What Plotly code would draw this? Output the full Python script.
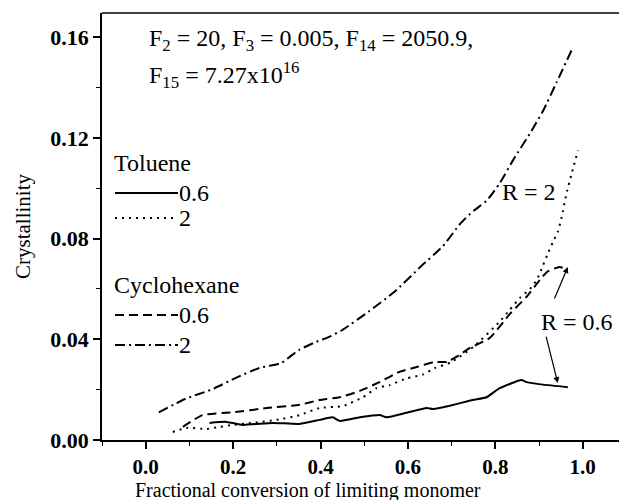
import plotly.graph_objects as go

# Toluene R = 0.6 (solid)
tol06_x = [0.146, 0.185, 0.222, 0.29, 0.352, 0.398, 0.428, 0.444, 0.49, 0.535, 0.551, 0.597, 0.643, 0.657, 0.703, 0.748, 0.78, 0.81, 0.86, 0.872, 0.909, 0.966]
tol06_y = [0.0068, 0.0072, 0.006, 0.0068, 0.0064, 0.008, 0.009, 0.0076, 0.009, 0.0099, 0.009, 0.0108, 0.0127, 0.0123, 0.0139, 0.0159, 0.017, 0.0206, 0.0238, 0.023, 0.022, 0.021]

# Toluene R = 2 (dotted)
tol2_x = [0.062, 0.094, 0.139, 0.169, 0.2, 0.245, 0.3, 0.352, 0.398, 0.451, 0.497, 0.528, 0.558, 0.597, 0.634, 0.661, 0.70, 0.75, 0.81, 0.833, 0.856, 0.879, 0.895, 0.906, 0.92, 0.932, 0.943, 0.952, 0.963, 0.975, 0.989]
tol2_y = [0.0032, 0.0048, 0.0044, 0.0052, 0.006, 0.0068, 0.008, 0.0099, 0.0127, 0.0135, 0.017, 0.0206, 0.0218, 0.0245, 0.026, 0.0285, 0.031, 0.037, 0.047, 0.0517, 0.0564, 0.060, 0.0636, 0.068, 0.074, 0.0787, 0.0826, 0.0887, 0.098, 0.106, 0.115]

# Cyclohexane R = 0.6 (dashed)
cyc06_x = [0.085, 0.13, 0.2, 0.277, 0.352, 0.398, 0.444, 0.49, 0.535, 0.58, 0.62, 0.661, 0.689, 0.711, 0.741, 0.787, 0.833, 0.872, 0.902, 0.92, 0.947, 0.963]
cyc06_y = [0.0052, 0.0099, 0.011, 0.0127, 0.014, 0.0159, 0.017, 0.0195, 0.023, 0.027, 0.029, 0.031, 0.031, 0.033, 0.0365, 0.0405, 0.050, 0.057, 0.0636, 0.067, 0.0687, 0.068]

# Cyclohexane R = 2 (dash-dot)
cyc2_x = [0.03, 0.09, 0.15, 0.21, 0.26, 0.31, 0.35, 0.39, 0.42, 0.45, 0.51, 0.57, 0.63, 0.68, 0.72, 0.75, 0.78, 0.81, 0.84, 0.88, 0.91, 0.94, 0.975]
cyc2_y = [0.011, 0.0163, 0.020, 0.025, 0.0286, 0.0306, 0.0357, 0.039, 0.041, 0.0437, 0.051, 0.059, 0.069, 0.077, 0.086, 0.091, 0.095, 0.102, 0.111, 0.122, 0.131, 0.142, 0.155]

x_ticks = [0.0, 0.2, 0.4, 0.6, 0.8, 1.0]
y_ticks = [0.00, 0.04, 0.08, 0.12, 0.16]

FONT = "Liberation Serif"
TXT = 24
W, H = 619, 500
ML, MR, MT, MB = 102, 0, 13, 60
pw, ph = W - ML - MR, H - MT - MB

def px(xp):
    return (xp - ML) / pw

def py(yp):
    return (H - MB - yp) / ph

fig = go.Figure()
styles = [
    (tol06_x, tol06_y, "solid", "Toluene 0.6"),
    (tol2_x, tol2_y, "2px,5px", "Toluene 2"),
    (cyc06_x, cyc06_y, "9px,5px", "Cyclohexane 0.6"),
    (cyc2_x, cyc2_y, "10px,4px,2px,4px", "Cyclohexane 2"),
]
for xs, ys, dash, name in styles:
    fig.add_trace(go.Scatter(x=xs, y=ys, mode="lines", name=name,
                             line=dict(color="black", width=2, dash=dash, shape="spline", smoothing=0.5),
                             showlegend=False))

shapes = [dict(type="line", xref="paper", yref="paper", x0=0, x1=1, y0=1, y1=1,
               line=dict(color="black", width=1.5))]
annotations = []

# legend drawn manually
leg = [
    ("Toluene", None, 163),
    ("0.6", "solid", 193),
    ("2", "2px,5px", 218),
    ("Cyclohexane", None, 285),
    ("0.6", "9px,5px", 315),
    ("2", "10px,4px,2px,4px", 345),
]
for text, dash, yc in leg:
    if dash is None:
        annotations.append(dict(xref="paper", yref="paper", x=px(112), y=py(yc), text=text,
                                showarrow=False, xanchor="left", yanchor="middle",
                                font=dict(family=FONT, size=TXT, color="black")))
    else:
        shapes.append(dict(type="line", xref="paper", yref="paper", x0=px(115), x1=px(178),
                           y0=py(yc), y1=py(yc), line=dict(color="black", width=2, dash=dash)))
        annotations.append(dict(xref="paper", yref="paper", x=px(177), y=py(yc), text=text,
                                showarrow=False, xanchor="left", yanchor="middle",
                                font=dict(family=FONT, size=TXT, color="black")))

annotations += [
    dict(xref="paper", yref="paper", x=px(147), y=py(40),
         text="F<sub>2</sub> = 20, F<sub>3</sub> = 0.005, F<sub>14</sub> = 2050.9,",
         showarrow=False, xanchor="left", yanchor="middle",
         font=dict(family=FONT, size=TXT, color="black")),
    dict(xref="paper", yref="paper", x=px(147), y=py(75),
         text="F<sub>15</sub> = 7.27x10<sup>16</sup>",
         showarrow=False, xanchor="left", yanchor="middle",
         font=dict(family=FONT, size=TXT, color="black")),
    dict(xref="paper", yref="paper", x=px(529), y=py(192), text="R = 2",
         showarrow=False, xanchor="center", yanchor="middle",
         font=dict(family=FONT, size=TXT, color="black")),
    dict(xref="paper", yref="paper", x=px(577), y=py(322), text="R = 0.6",
         showarrow=False, xanchor="center", yanchor="middle",
         font=dict(family=FONT, size=TXT, color="black")),
    dict(x=0.966, y=0.0687, xref="x", yref="y", text="",
         showarrow=True, arrowhead=2, arrowsize=1, arrowwidth=1.2, arrowcolor="black",
         ax=-14, ay=33),
    dict(x=0.943, y=0.0226, xref="x", yref="y", text="",
         showarrow=True, arrowhead=2, arrowsize=1, arrowwidth=1.2, arrowcolor="black",
         ax=-12, ay=-48),
    dict(xref="paper", yref="paper", x=px(308), y=py(491), text="Fractional conversion of limiting monomer",
         showarrow=False, xanchor="center", yanchor="middle",
         font=dict(family=FONT, size=20, color="black")),
]

fig.update_layout(
    width=W, height=H, margin=dict(l=ML, r=MR, t=MT, b=MB),
    paper_bgcolor="white", plot_bgcolor="white",
    shapes=shapes, annotations=annotations,
    xaxis=dict(range=[-0.1, -0.1 + pw / 437], tickvals=x_ticks, ticktext=[f"{v:.1f}" for v in x_ticks],
               ticks="outside", ticklen=7, tickwidth=1.5, tickcolor="black",
               showline=True, linecolor="black", linewidth=1.5, showgrid=False, zeroline=False,
               minor=dict(dtick=0.1, tick0=0, ticks="outside", ticklen=4, tickwidth=1.2, tickcolor="black"),
               tickfont=dict(family=FONT, size=21, color="black", weight="bold")),
    yaxis=dict(range=[0, ph / 2517], tickvals=y_ticks, ticktext=[f"{v:.2f}" for v in y_ticks],
               ticks="outside", ticklen=7, tickwidth=1.5, tickcolor="black",
               showline=True, linecolor="black", linewidth=1.5, showgrid=False, zeroline=False,
               minor=dict(dtick=0.02, tick0=0, ticks="outside", ticklen=4, tickwidth=1.2, tickcolor="black"),
               tickfont=dict(family=FONT, size=22, color="black", weight="bold"),
               title=dict(text="Crystallinity", font=dict(family=FONT, size=21, color="black"), standoff=14)),
)

fig.write_html("out.html")
